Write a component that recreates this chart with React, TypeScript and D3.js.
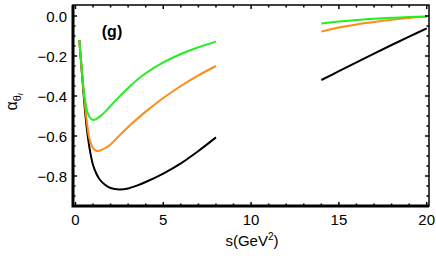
import React, { useEffect, useRef } from "react";
import * as d3 from "d3";

const W = 436;
const H = 262;
const FRAME = { LEFT: 73, RIGHT: 429, TOP: 5, BOTTOM: 206 };

// s values (GeV^2) for the two kinematic windows
const sLow = [0.22, 0.3, 0.4, 0.5, 0.65, 0.8, 1.0, 1.2, 1.4, 1.7, 2.0, 2.5, 3.0, 3.5, 4.0, 5.0, 6.0, 7.0, 8.0];
const sHigh = [14, 15, 16, 17, 18, 19, 20];

const blackLow = [-0.12, -0.21, -0.32, -0.43, -0.565, -0.66, -0.745, -0.79, -0.82, -0.845, -0.86, -0.867, -0.862, -0.848, -0.83, -0.788, -0.737, -0.675, -0.607];
const orangeLow = [-0.12, -0.21, -0.315, -0.41, -0.53, -0.615, -0.66, -0.675, -0.672, -0.66, -0.642, -0.598, -0.555, -0.515, -0.478, -0.41, -0.35, -0.297, -0.25];
const greenLow = [-0.12, -0.2, -0.3, -0.39, -0.47, -0.505, -0.52, -0.514, -0.502, -0.478, -0.45, -0.403, -0.36, -0.32, -0.286, -0.232, -0.19, -0.156, -0.128];

const blackHigh = [-0.32, -0.276, -0.232, -0.188, -0.145, -0.103, -0.062];
const orangeHigh = [-0.078, -0.058, -0.042, -0.03, -0.019, -0.01, -0.003];
const greenHigh = [-0.037, -0.028, -0.02, -0.014, -0.009, -0.005, -0.002];

const xTicks = [0, 5, 10, 15, 20];
const yTicks = [0, -0.2, -0.4, -0.6, -0.8];

const series = [
  { color: "#000000", low: blackLow, high: blackHigh },
  { color: "#ff8a14", low: orangeLow, high: orangeHigh },
  { color: "#22ee22", low: greenLow, high: greenHigh },
];

export default function App() {
  const ref = useRef<SVGSVGElement>(null);

  useEffect(() => {
    const svg = d3.select(ref.current);
    svg.selectAll("*").remove();

    const x = d3.scaleLinear().domain([-0.14, 20.13]).range([FRAME.LEFT, FRAME.RIGHT]);
    const y = d3.scaleLinear().domain([0.055, -0.95]).range([FRAME.TOP, FRAME.BOTTOM]);

    const line = d3
      .line<[number, number]>()
      .x((d) => x(d[0]))
      .y((d) => y(d[1]))
      .curve(d3.curveCatmullRom.alpha(0.5));

    const g = svg.append("g");

    series.forEach((sr) => {
      g.append("path")
        .attr("d", line(sLow.map((s, i) => [s, sr.low[i]] as [number, number])))
        .attr("fill", "none")
        .attr("stroke", sr.color)
        .attr("stroke-width", 2);
      g.append("path")
        .attr("d", line(sHigh.map((s, i) => [s, sr.high[i]] as [number, number])))
        .attr("fill", "none")
        .attr("stroke", sr.color)
        .attr("stroke-width", 2);
    });

    // frame
    const fr = svg.append("g");
    fr.append("rect")
      .attr("x", FRAME.LEFT)
      .attr("y", FRAME.TOP)
      .attr("width", FRAME.RIGHT - FRAME.LEFT)
      .attr("height", FRAME.BOTTOM - FRAME.TOP)
      .attr("fill", "none")
      .attr("stroke", "#000")
      .attr("stroke-width", 1.5);
    fr.append("path")
      .attr("d", `M${FRAME.LEFT},${FRAME.TOP}V${FRAME.BOTTOM}H${FRAME.RIGHT}`)
      .attr("fill", "none")
      .attr("stroke", "#000")
      .attr("stroke-width", 3);

    // ticks (inward, mirrored on top/right)
    const xMinor = d3.range(0, 21, 1);
    xMinor.forEach((t) => {
      const major = t % 5 === 0;
      const len = major ? 4 : 2.5;
      fr.append("line")
        .attr("x1", x(t)).attr("x2", x(t))
        .attr("y1", FRAME.BOTTOM).attr("y2", FRAME.BOTTOM - len)
        .attr("stroke", "#000").attr("stroke-width", 1.5);
      fr.append("line")
        .attr("x1", x(t)).attr("x2", x(t))
        .attr("y1", FRAME.TOP).attr("y2", FRAME.TOP + len)
        .attr("stroke", "#000").attr("stroke-width", 1.5);
    });
    const yMinor = d3.range(0, 19).map((i) => -i * 0.05);
    yMinor.forEach((t, i) => {
      const major = i % 4 === 0;
      const len = major ? 4 : 2.5;
      fr.append("line")
        .attr("x1", FRAME.LEFT).attr("x2", FRAME.LEFT + len)
        .attr("y1", y(t)).attr("y2", y(t))
        .attr("stroke", "#000").attr("stroke-width", 1.5);
      fr.append("line")
        .attr("x1", FRAME.RIGHT).attr("x2", FRAME.RIGHT - len)
        .attr("y1", y(t)).attr("y2", y(t))
        .attr("stroke", "#000").attr("stroke-width", 1.5);
    });

    const font = "Liberation Sans, Arial, sans-serif";

    fr.selectAll(".xl")
      .data(xTicks)
      .enter()
      .append("text")
      .attr("x", (d) => x(d))
      .attr("y", 225)
      .attr("text-anchor", "middle")
      .attr("font-family", font)
      .attr("font-size", 15)
      .text((d) => String(d));

    fr.selectAll(".yl")
      .data(yTicks)
      .enter()
      .append("text")
      .attr("x", 67)
      .attr("y", (d) => y(d) + 5.5)
      .attr("text-anchor", "end")
      .attr("font-family", font)
      .attr("font-size", 15)
      .text((d) => (d === 0 ? "0.0" : "\u2212" + Math.abs(d).toFixed(1)));

    // panel label
    svg.append("text")
      .attr("x", 112)
      .attr("y", 37)
      .attr("text-anchor", "middle")
      .attr("font-family", font)
      .attr("font-weight", "bold")
      .attr("font-size", 16)
      .text("(g)");

    // x label
    const xl = svg.append("text")
      .attr("x", 252)
      .attr("y", 246)
      .attr("text-anchor", "middle")
      .attr("font-family", font)
      .attr("font-size", 15);
    xl.append("tspan").text("s(GeV");
    xl.append("tspan").attr("font-size", 10).attr("dy", -6).text("2");
    xl.append("tspan").attr("dy", 6).text(")");

    // y label
    const yl = svg.append("text")
      .attr("transform", "translate(17,102) rotate(-90)")
      .attr("text-anchor", "middle")
      .attr("font-family", font)
      .attr("font-size", 16);
    yl.append("tspan").text("α");
    yl.append("tspan").attr("font-size", 11).attr("dy", 4).text("θ");
    yl.append("tspan").attr("font-size", 8).attr("dy", 2).attr("font-style", "italic").text("l");
  }, []);

  return (
    <svg
      ref={ref}
      width={W}
      height={H}
      style={{ position: "absolute", left: 0, top: 0, background: "#fff" }}
    />
  );
}
